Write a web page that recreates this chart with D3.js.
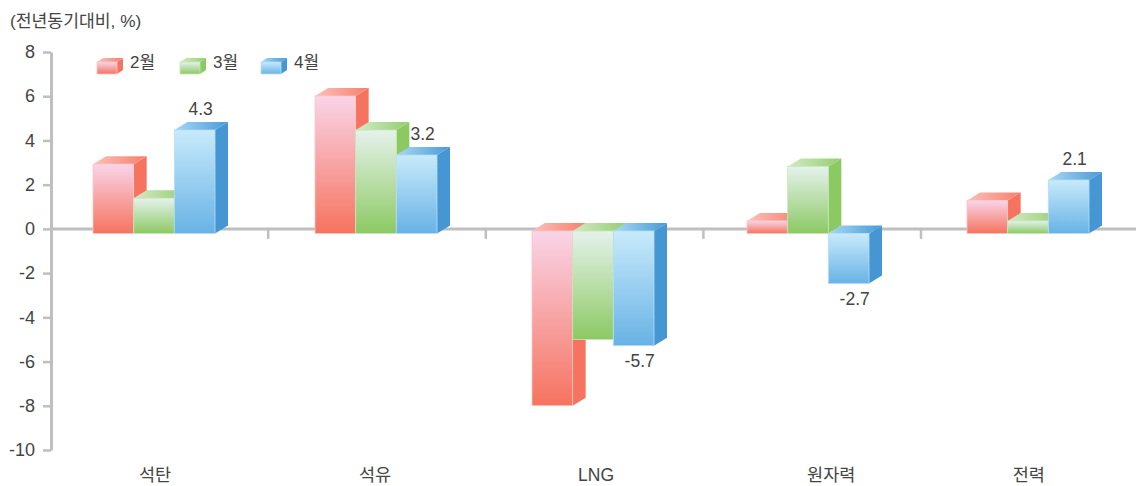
<!DOCTYPE html>
<html lang="ko">
<head>
<meta charset="utf-8">
<script src="https://cdn.jsdelivr.net/npm/d3@7"></script>
<style>
  html, body { margin: 0; padding: 0; background: #fff; }
  svg { display: block; }
  text { font-family: "Liberation Sans", "Noto Sans CJK KR", sans-serif; fill: #444; }
</style>
</head>
<body>
<div id="chart"></div>
<script>
const categories = ['석탄', '석유', 'LNG', '원자력', '전력']
const months = ['2월', '3월', '4월']
const feb = [2.8, 5.8, -8.6, 0.3, 1.2]
const mar = [1.3, 4.3, -5.4, 2.7, 0.3]
const apr = [4.3, 3.2, -5.7, -2.7, 2.1]
const seriesValues = [feb, mar, apr]
const yTicks = [8, 6, 4, 2, 0, -2, -4, -6, -8, -10]
const unitTitle = '(전년동기대비, %)'

const colors = [
  { hi: '#f9d4e8', lo: '#f6735f', side: '#f6735f', topL: '#fcc0ba', topR: '#f6806e', edge: '#fbc9c3' },
  { hi: '#e5f2ec', lo: '#8cc963', side: '#8cc963', topL: '#d3eac8', topR: '#94cd6e', edge: '#c9e6b5' },
  { hi: '#c8eafb', lo: '#68b2e5', side: '#4596d3', topL: '#a6d8f5', topR: '#4a9ad6', edge: '#b5def7' }
]

// hand nudges, the source picture is not evenly spaced
const groupNudge = [0.6, 5, 4.4, 1.8, 4.2]
const labelNudge = [-4.4, -2, 1.4, 19, -1]
const negBase = [231, 231, 231, 233.5, 231]

const W = 1136
const H = 486
const depthX = 13
const depthY = 8

const svg = d3.select('#chart').append('svg').attr('width', W).attr('height', H)
const defs = svg.append('defs')

colors.forEach((c, i) => {
  const front = defs.append('linearGradient').attr('id', `front${i}`)
    .attr('x1', 0).attr('y1', 0).attr('x2', 0).attr('y2', 1)
  front.append('stop').attr('offset', 0).attr('stop-color', c.hi)
  front.append('stop').attr('offset', 1).attr('stop-color', c.lo)
  const top = defs.append('linearGradient').attr('id', `top${i}`)
    .attr('x1', 0).attr('y1', 0).attr('x2', 1).attr('y2', 0)
  top.append('stop').attr('offset', 0).attr('stop-color', c.topL)
  top.append('stop').attr('offset', 1).attr('stop-color', c.topR)
})

const y = d3.scaleLinear().domain([8, -10]).range([52, 450])
const x = d3.scaleBand().domain(categories).range([50.6, 1138.6])
const xSub = d3.scaleBand().domain(months).range([0, 122])

// front faces run a little off the axis scale in the source, up and down differently
const barY = d3.scaleLinear().domain([-1, 0, 1]).range([248.4, 227.7, 205])
const basePos = 233.5

function cube(g, x0, y0, w, h, i, dx, dy) {
  const c = colors[i]
  g.append('path')
    .attr('d', `M${x0 + w},${y0}L${x0 + w + dx},${y0 - dy}V${y0 + h - dy}L${x0 + w},${y0 + h}Z`)
    .attr('fill', c.side)
  g.append('path')
    .attr('d', `M${x0},${y0}L${x0 + dx},${y0 - dy}H${x0 + w + dx}L${x0 + w},${y0}Z`)
    .attr('fill', `url(#top${i})`)
  g.append('rect')
    .attr('x', x0).attr('y', y0).attr('width', w).attr('height', h)
    .attr('fill', `url(#front${i})`)
    .attr('stroke', c.edge).attr('stroke-width', 0.8)
}

// Axes
const axisColor = '#bfbfbf'
const yAxis = svg.append('g').attr('transform', 'translate(51,0)')
  .call(d3.axisLeft(y).tickValues(yTicks).tickFormat(d => String(d)).tickSize(8).tickPadding(8).tickSizeOuter(0))
yAxis.select('.domain').attr('stroke', axisColor).attr('stroke-width', 3)
yAxis.selectAll('line').attr('stroke', axisColor).attr('stroke-width', 2.5)
yAxis.selectAll('text').attr('font-size', 18).style('fill', '#444')

const zero = svg.append('g').attr('transform', `translate(0,${y(0)})`)
zero.append('line').attr('x1', 51).attr('x2', W).attr('stroke', axisColor).attr('stroke-width', 3)
zero.selectAll('.sep')
  .data(categories.slice(1))
  .join('line')
  .attr('class', 'sep')
  .attr('x1', d => x(d)).attr('x2', d => x(d))
  .attr('y1', 0).attr('y2', 10)
  .attr('stroke', axisColor).attr('stroke-width', 2.5)

const xAxis = svg.append('g').attr('transform', 'translate(0,450)')
  .call(d3.axisBottom(x).tickSize(0).tickPadding(19))
xAxis.select('.domain').remove()
xAxis.selectAll('text')
  .attr('font-size', 17.5)
  .attr('dx', (d, i) => labelNudge[i])
  .style('fill', '#444')

// Bars, back to front so each one covers the side of the previous
const barsG = svg.append('g')
categories.forEach((cat, ci) => {
  const start = x(cat) + (x.bandwidth() - xSub.range()[1]) / 2 - 6 + groupNudge[ci]
  months.forEach((m, si) => {
    const v = seriesValues[si][ci]
    const bx = start + xSub(m)
    const top = v >= 0 ? barY(v) : negBase[ci]
    const bottom = v >= 0 ? basePos : barY(v)
    cube(barsG.append('g'), bx, top, xSub.bandwidth(), bottom - top, si, depthX, depthY)
  })
})

// Value labels, only the last series has them
categories.forEach((cat, ci) => {
  const start = x(cat) + (x.bandwidth() - xSub.range()[1]) / 2 - 6 + groupNudge[ci]
  const v = apr[ci]
  svg.append('text')
    .attr('x', start + xSub('4월') + xSub.bandwidth() / 2 + 6)
    .attr('y', v >= 0 ? barY(v) - depthY - 13 : barY(v) + 15.5)
    .attr('dy', '0.35em')
    .attr('text-anchor', 'middle')
    .attr('font-size', 17.5)
    .text(v.toFixed(1))
})

// Legend
const legendX = d3.scaleOrdinal().domain(months).range([97, 180, 261])
months.forEach((m, i) => {
  cube(svg.append('g'), legendX(m), 62, 20, 12, i, 6, 4)
  svg.append('text')
    .attr('x', legendX(m) + 33).attr('y', 62)
    .attr('dy', '0.35em')
    .attr('font-size', 17)
    .text(m)
})

svg.append('text')
  .attr('x', 10).attr('y', 21)
  .attr('dy', '0.35em')
  .attr('font-size', 17.2)
  .text(unitTitle)
</script>
</body>
</html>
